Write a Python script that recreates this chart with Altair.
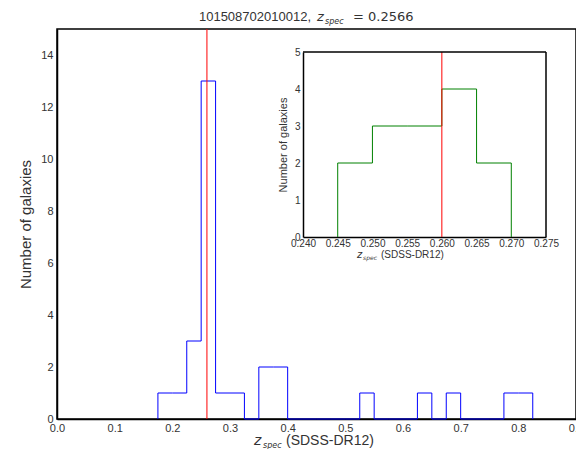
import altair as alt
import pandas as pd

# ---- data ----
object_id = "101508702010012"
zspec_label = "0.2566"
zline_main = [0.26]
zline_inset = [0.26]

main_edges = [0.175, 0.200, 0.225, 0.250, 0.275, 0.300, 0.325, 0.350, 0.375,
              0.400, 0.425, 0.450, 0.475, 0.500, 0.525, 0.550, 0.575, 0.600,
              0.625, 0.650, 0.675, 0.700, 0.725, 0.750, 0.775, 0.800, 0.825]
main_counts = [1, 1, 3, 13, 1, 1, 0, 2, 2,
               0, 0, 0, 0, 0, 1, 0, 0, 0,
               1, 0, 1, 0, 0, 0, 1, 1]

inset_edges = [0.245, 0.250, 0.255, 0.260, 0.265, 0.270]
inset_counts = [2, 3, 3, 4, 2]

main_xticks = [0.0, 0.1, 0.2, 0.3, 0.4, 0.5, 0.6, 0.7, 0.8, 0.9]
main_yticks = [0, 2, 4, 6, 8, 10, 12, 14]
inset_xticks = [0.240, 0.245, 0.250, 0.255, 0.260, 0.265, 0.270, 0.275]
inset_yticks = [0, 1, 2, 3, 4, 5]
main_xdomain = [0.0, 0.9]
main_ydomain = [0, 15]
inset_xdomain = [0.240, 0.275]
inset_ydomain = [0, 5]

# ---- layout (pixels) ----
W, H = 519, 390
IN_L, IN_R, IN_T, IN_B = 246, 489, 23, 208
FONT = "Liberation Sans"
MATH = "DejaVu Sans"
TXT = "#333333"


def step_frame(edges, counts, xname, yname):
    xs = [edges[0]] + list(edges[:-1]) + [edges[-1]]
    ys = [0] + list(counts) + [0]
    return pd.DataFrame({xname: xs, yname: ys, "i": list(range(len(xs)))})


main_df = step_frame(main_edges, main_counts, "z", "n")
inset_df = step_frame(inset_edges, inset_counts, "zi", "ni")

# ---- main panel ----
mx_scale = alt.Scale(domain=main_xdomain, nice=False, zero=False)
my_scale = alt.Scale(domain=main_ydomain, nice=False, zero=False)

main_hist = alt.Chart(main_df).mark_line(
    interpolate="step-after", color="blue", strokeWidth=1
).encode(
    x=alt.X("z:Q", scale=mx_scale,
            axis=alt.Axis(values=main_xticks, format=".1f", title=None,
                          grid=False, ticks=False, labelPadding=3,
                          labelFontSize=11, labelColor=TXT, labelFlush=False,
                          domainColor="black", domainWidth=1.5)),
    y=alt.Y("n:Q", scale=my_scale,
            axis=alt.Axis(values=main_yticks, format="d",
                          title="Number of galaxies", grid=False, ticks=False,
                          labelPadding=4, labelFontSize=11, labelColor=TXT,
                          titleFontSize=15, titleFontWeight="normal",
                          titleColor=TXT, titlePadding=7,
                          domainColor="black", domainWidth=1.5)),
    order="i:Q",
)

main_red = alt.Chart(pd.DataFrame({"z": zline_main})).mark_rule(
    color="red", strokeWidth=1
).encode(x=alt.X("z:Q", scale=mx_scale))


def text_piece(text, x, y, size, align, font=FONT, style="normal"):
    return alt.Chart(pd.DataFrame({"t": [text]})).mark_text(
        font=font, fontSize=size, color=TXT, align=align,
        baseline="alphabetic", fontStyle=style
    ).encode(x=alt.value(x), y=alt.value(y), text="t:N")


title_parts = [
    text_piece(object_id + ",", 254, -8, 13, "right"),
    text_piece("z", 260, -8, 13, "left", MATH, "italic"),
    text_piece("spec", 268, -5, 8, "left", MATH, "italic"),
    text_piece("= " + zspec_label, 296, -8, 13, "left", MATH),
]
xtitle_parts = [
    text_piece("z", 197, 416, 14, "left", MATH, "italic"),
    text_piece("spec", 206, 419, 8, "left", MATH, "italic"),
    text_piece("(SDSS-DR12)", 229, 416, 14, "left"),
]
ititle_parts = [
    text_piece("z", 300, 229, 10, "left", MATH, "italic"),
    text_piece("spec", 306, 231, 6, "left", MATH, "italic"),
    text_piece("(SDSS-DR12)", 324, 229, 10, "left"),
]

main_group = alt.layer(main_hist, main_red, *title_parts, *xtitle_parts,
                       *ititle_parts)

# ---- inset panel ----
ix_scale = alt.Scale(domain=inset_xdomain, range=[IN_L, IN_R], nice=False,
                     zero=False)
iy_scale = alt.Scale(domain=inset_ydomain, range=[IN_B, IN_T], nice=False,
                     zero=False)

inset_hist = alt.Chart(inset_df).mark_line(
    interpolate="step-after", color="green", strokeWidth=1
).encode(
    x=alt.X("zi:Q", scale=ix_scale,
            axis=alt.Axis(orient="bottom", offset=IN_B - H,
                          values=inset_xticks, format=".3f", title=None,
                          grid=False, ticks=False, labelPadding=1,
                          labelFontSize=10, labelColor=TXT, labelFlush=False,
                          domainColor="black", domainWidth=1.5)),
    y=alt.Y("ni:Q", scale=iy_scale,
            axis=alt.Axis(orient="left", offset=-IN_L, values=inset_yticks,
                          format="d", title="Number of galaxies", grid=False,
                          ticks=False, labelPadding=3, labelFontSize=10,
                          labelColor=TXT, titleFontSize=11,
                          titleFontWeight="normal", titleColor=TXT,
                          titlePadding=6, domainColor="black",
                          domainWidth=1.5)),
    order="i:Q",
)

inset_red = alt.Chart(pd.DataFrame({"zi": zline_inset,
                                    "lo": [inset_ydomain[0]],
                                    "hi": [inset_ydomain[1]]})).mark_rule(
    color="red", strokeWidth=1
).encode(x=alt.X("zi:Q", scale=ix_scale), y=alt.Y("lo:Q", scale=iy_scale),
         y2="hi:Q")

inset_top = alt.Chart(pd.DataFrame({"zi": [inset_xdomain[0]],
                                    "zi2": [inset_xdomain[1]],
                                    "ni": [inset_ydomain[1]]})).mark_rule(
    color="black", strokeWidth=1.5
).encode(x=alt.X("zi:Q", scale=ix_scale), x2="zi2:Q",
         y=alt.Y("ni:Q", scale=iy_scale))

inset_right = alt.Chart(pd.DataFrame({"zi": [inset_xdomain[1]],
                                      "lo": [inset_ydomain[0]],
                                      "hi": [inset_ydomain[1]]})).mark_rule(
    color="black", strokeWidth=1.5
).encode(x=alt.X("zi:Q", scale=ix_scale), y=alt.Y("lo:Q", scale=iy_scale),
         y2="hi:Q")

inset_group = alt.layer(inset_hist, inset_red, inset_top, inset_right)

chart = alt.layer(main_group, inset_group).resolve_scale(
    x="independent", y="independent"
).properties(
    width=W, height=H, autosize="none",
    padding={"left": 49, "top": 21, "right": 0, "bottom": 30},
).configure_view(
    stroke="black", strokeWidth=1.5
).configure_axis(
    labelFont=FONT, titleFont=FONT
)

chart.save("out.html", embed_options={"renderer": "svg", "actions": False})
